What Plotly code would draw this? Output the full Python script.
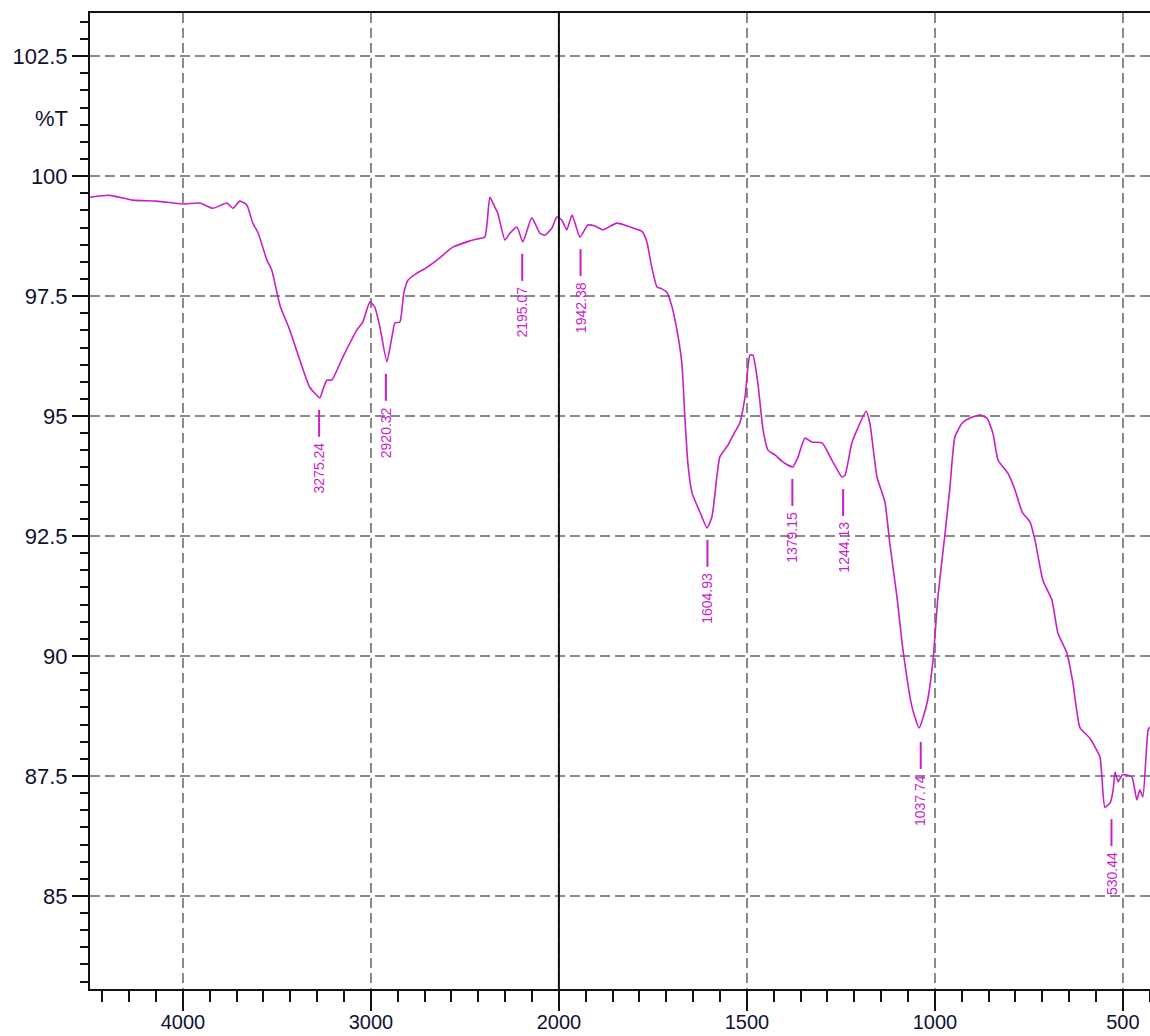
import plotly.graph_objects as go

# Spectrum data (wavenumber cm-1, %T)
wavenumber = [4495, 4389, 4266, 4139, 4000, 3910, 3841, 3766, 3734, 3697, 3660, 3628, 3601, 3553, 3527,
              3484, 3431, 3378, 3325, 3271, 3256, 3234, 3208, 3149, 3075, 3043, 3005, 2979, 2952, 2915,
              2888, 2872, 2846, 2825, 2803, 2755, 2702, 2649, 2564, 2489, 2436, 2394, 2367, 2340, 2325,
              2287, 2261, 2223, 2192, 2144, 2101, 2074, 2037, 2011, 1992, 1979, 1965, 1944, 1923, 1904,
              1883, 1846, 1803, 1779, 1766, 1753, 1739, 1726, 1713, 1699, 1686, 1673, 1665, 1657, 1646,
              1625, 1606, 1593, 1580, 1572, 1550, 1532, 1519, 1505, 1492, 1484, 1471, 1457, 1444, 1425,
              1404, 1378, 1364, 1346, 1327, 1300, 1274, 1247, 1239, 1221, 1205, 1183, 1173, 1154, 1133,
              1120, 1101, 1085, 1061, 1042, 1021, 1005, 992, 973, 960, 947, 928, 907, 880, 862,
              846, 832, 806, 787, 768, 747, 734, 713, 689, 673, 649, 633, 614, 588, 574,
              561, 556, 548, 534, 526, 521, 513, 502, 489, 476, 463, 455, 447, 433, 428]
transmittance = [99.56, 99.60, 99.50, 99.48, 99.42, 99.44, 99.33, 99.44, 99.33, 99.48, 99.40, 99.02, 98.83, 98.25, 98.04,
                 97.31, 96.79, 96.17, 95.60, 95.38, 95.54, 95.75, 95.75, 96.23, 96.79, 96.96, 97.38, 97.27, 96.85, 96.13,
                 96.65, 96.94, 96.96, 97.56, 97.83, 97.98, 98.10, 98.25, 98.52, 98.63, 98.69, 98.73, 99.56, 99.35, 99.23,
                 98.67, 98.81, 98.94, 98.63, 99.13, 98.81, 98.77, 98.92, 99.15, 99.08, 98.88, 99.19, 98.73, 98.98, 98.96,
                 98.88, 99.02, 98.92, 98.85, 98.63, 98.10, 97.69, 97.65, 97.58, 97.27, 96.79, 96.10, 94.98, 94.02, 93.40,
                 93.00, 92.67, 92.90, 93.73, 94.15, 94.40, 94.67, 94.85, 95.40, 96.27, 96.27, 95.69, 94.71, 94.29, 94.19,
                 94.04, 93.94, 94.15, 94.54, 94.46, 94.44, 94.08, 93.73, 93.77, 94.44, 94.75, 95.10, 94.85, 93.73, 93.21,
                 92.35, 91.23, 90.13, 88.94, 88.50, 89.02, 89.92, 91.23, 92.56, 93.52, 94.56, 94.85, 94.96, 95.02, 94.96,
                 94.65, 94.08, 93.81, 93.46, 93.00, 92.79, 92.42, 91.58, 91.17, 90.48, 90.06, 89.44, 88.50, 88.29, 88.10,
                 87.90, 87.48, 86.85, 86.94, 87.21, 87.58, 87.38, 87.52, 87.52, 87.48, 87.00, 87.21, 87.06, 88.46, 88.52]

peak_wn = [3275.24, 2920.32, 2195.07, 1942.38, 1604.93, 1379.15, 1244.13, 1037.74, 530.44]
peak_T = [95.38, 96.13, 98.63, 98.73, 92.67, 93.94, 93.73, 88.46, 86.85]
peak_labels = ["3275.24", "2920.32", "2195.07", "1942.38", "1604.93", "1379.15", "1244.13", "1037.74", "530.44"]

x_ticks = [4000, 3000, 2000, 1500, 1000, 500]
x_tick_labels = ["4000", "3000", "2000", "1500", "1000", "500"]
y_ticks = [85, 87.5, 90, 92.5, 95, 97.5, 100, 102.5]
y_tick_labels = ["85", "87.5", "90", "92.5", "95", "97.5", "100", "102.5"]

SCALE_BREAK = 2000  # above this the axis is compressed 2:1


def axis_pos(w):
    return w if w <= SCALE_BREAK else SCALE_BREAK + (w - SCALE_BREAK) / 2.0


MAGENTA = "#c81ec8"
FONT = "Liberation Sans, Arial, sans-serif"
TXT = "#111133"

fig = go.Figure()
fig.add_trace(go.Scatter(
    x=[axis_pos(w) for w in wavenumber], y=transmittance,
    mode="lines", line=dict(color=MAGENTA, width=1.6, shape="spline", smoothing=0.5),
    hoverinfo="skip", showlegend=False))

shapes = [dict(type="line", xref="x", yref="paper", x0=axis_pos(2000), x1=axis_pos(2000),
               y0=0, y1=1, line=dict(color="#111111", width=2))]
annotations = []
for w, t, lab in zip(peak_wn, peak_T, peak_labels):
    xp = axis_pos(w)
    shapes.append(dict(type="line", xref="x", yref="y", ysizemode="pixel", yanchor=t,
                       x0=xp, x1=xp, y0=-12, y1=-39, line=dict(color=MAGENTA, width=2)))
    annotations.append(dict(x=xp, y=t, xref="x", yref="y", yshift=-43, text=lab,
                            textangle=-90, showarrow=False, xanchor="center", yanchor="top",
                            font=dict(family=FONT, size=14, color=MAGENTA)))

annotations.append(dict(x=0, y=101.2, xref="paper", yref="y", xshift=-20, text="%T",
                        showarrow=False, xanchor="right", yanchor="middle",
                        font=dict(family=FONT, size=22, color=TXT)))

grid_style = dict(showgrid=True, gridcolor="#8a8a8a", gridwidth=2, griddash="10px,5px")

fig.update_layout(
    width=1150, height=1036,
    margin=dict(l=90, r=0, t=13, b=47),
    paper_bgcolor="white", plot_bgcolor="white",
    shapes=shapes, annotations=annotations,
    font=dict(family=FONT, size=22, color=TXT),
    xaxis=dict(range=[axis_pos(4494), axis_pos(428)], automargin=False,
               tickvals=[axis_pos(v) for v in x_ticks], ticktext=x_tick_labels,
               ticks="outside", ticklen=20, tickwidth=2, tickcolor="#111111",
               showline=True, linecolor="#111111", linewidth=2, mirror=True,
               zeroline=False,
               minor=dict(dtick=500 / 7, tick0=500, ticks="outside", ticklen=11,
                          tickwidth=2, tickcolor="#111111", showgrid=False),
               tickfont=dict(family=FONT, size=20, color=TXT),
               **grid_style),
    yaxis=dict(range=[83.06, 103.40], automargin=False,
               tickvals=y_ticks, ticktext=y_tick_labels,
               ticks="outside", ticklen=16, tickwidth=2, tickcolor="#111111",
               showline=True, linecolor="#111111", linewidth=2, mirror=False,
               zeroline=False,
               minor=dict(dtick=2.5 / 7, tick0=85, ticks="outside", ticklen=8,
                          tickwidth=2, tickcolor="#111111", showgrid=False),
               tickfont=dict(family=FONT, size=22, color=TXT),
               **grid_style),
)

try:
    fig.update_xaxes(ticklabelstandoff=-6)
except (ValueError, TypeError):
    fig.update_xaxes(ticklen=15, tickfont_size=19)

fig.write_html(
    "out.html",
    config={"displayModeBar": False},
    post_script="document.body.style.margin='0';document.body.style.overflow='hidden';",
)
